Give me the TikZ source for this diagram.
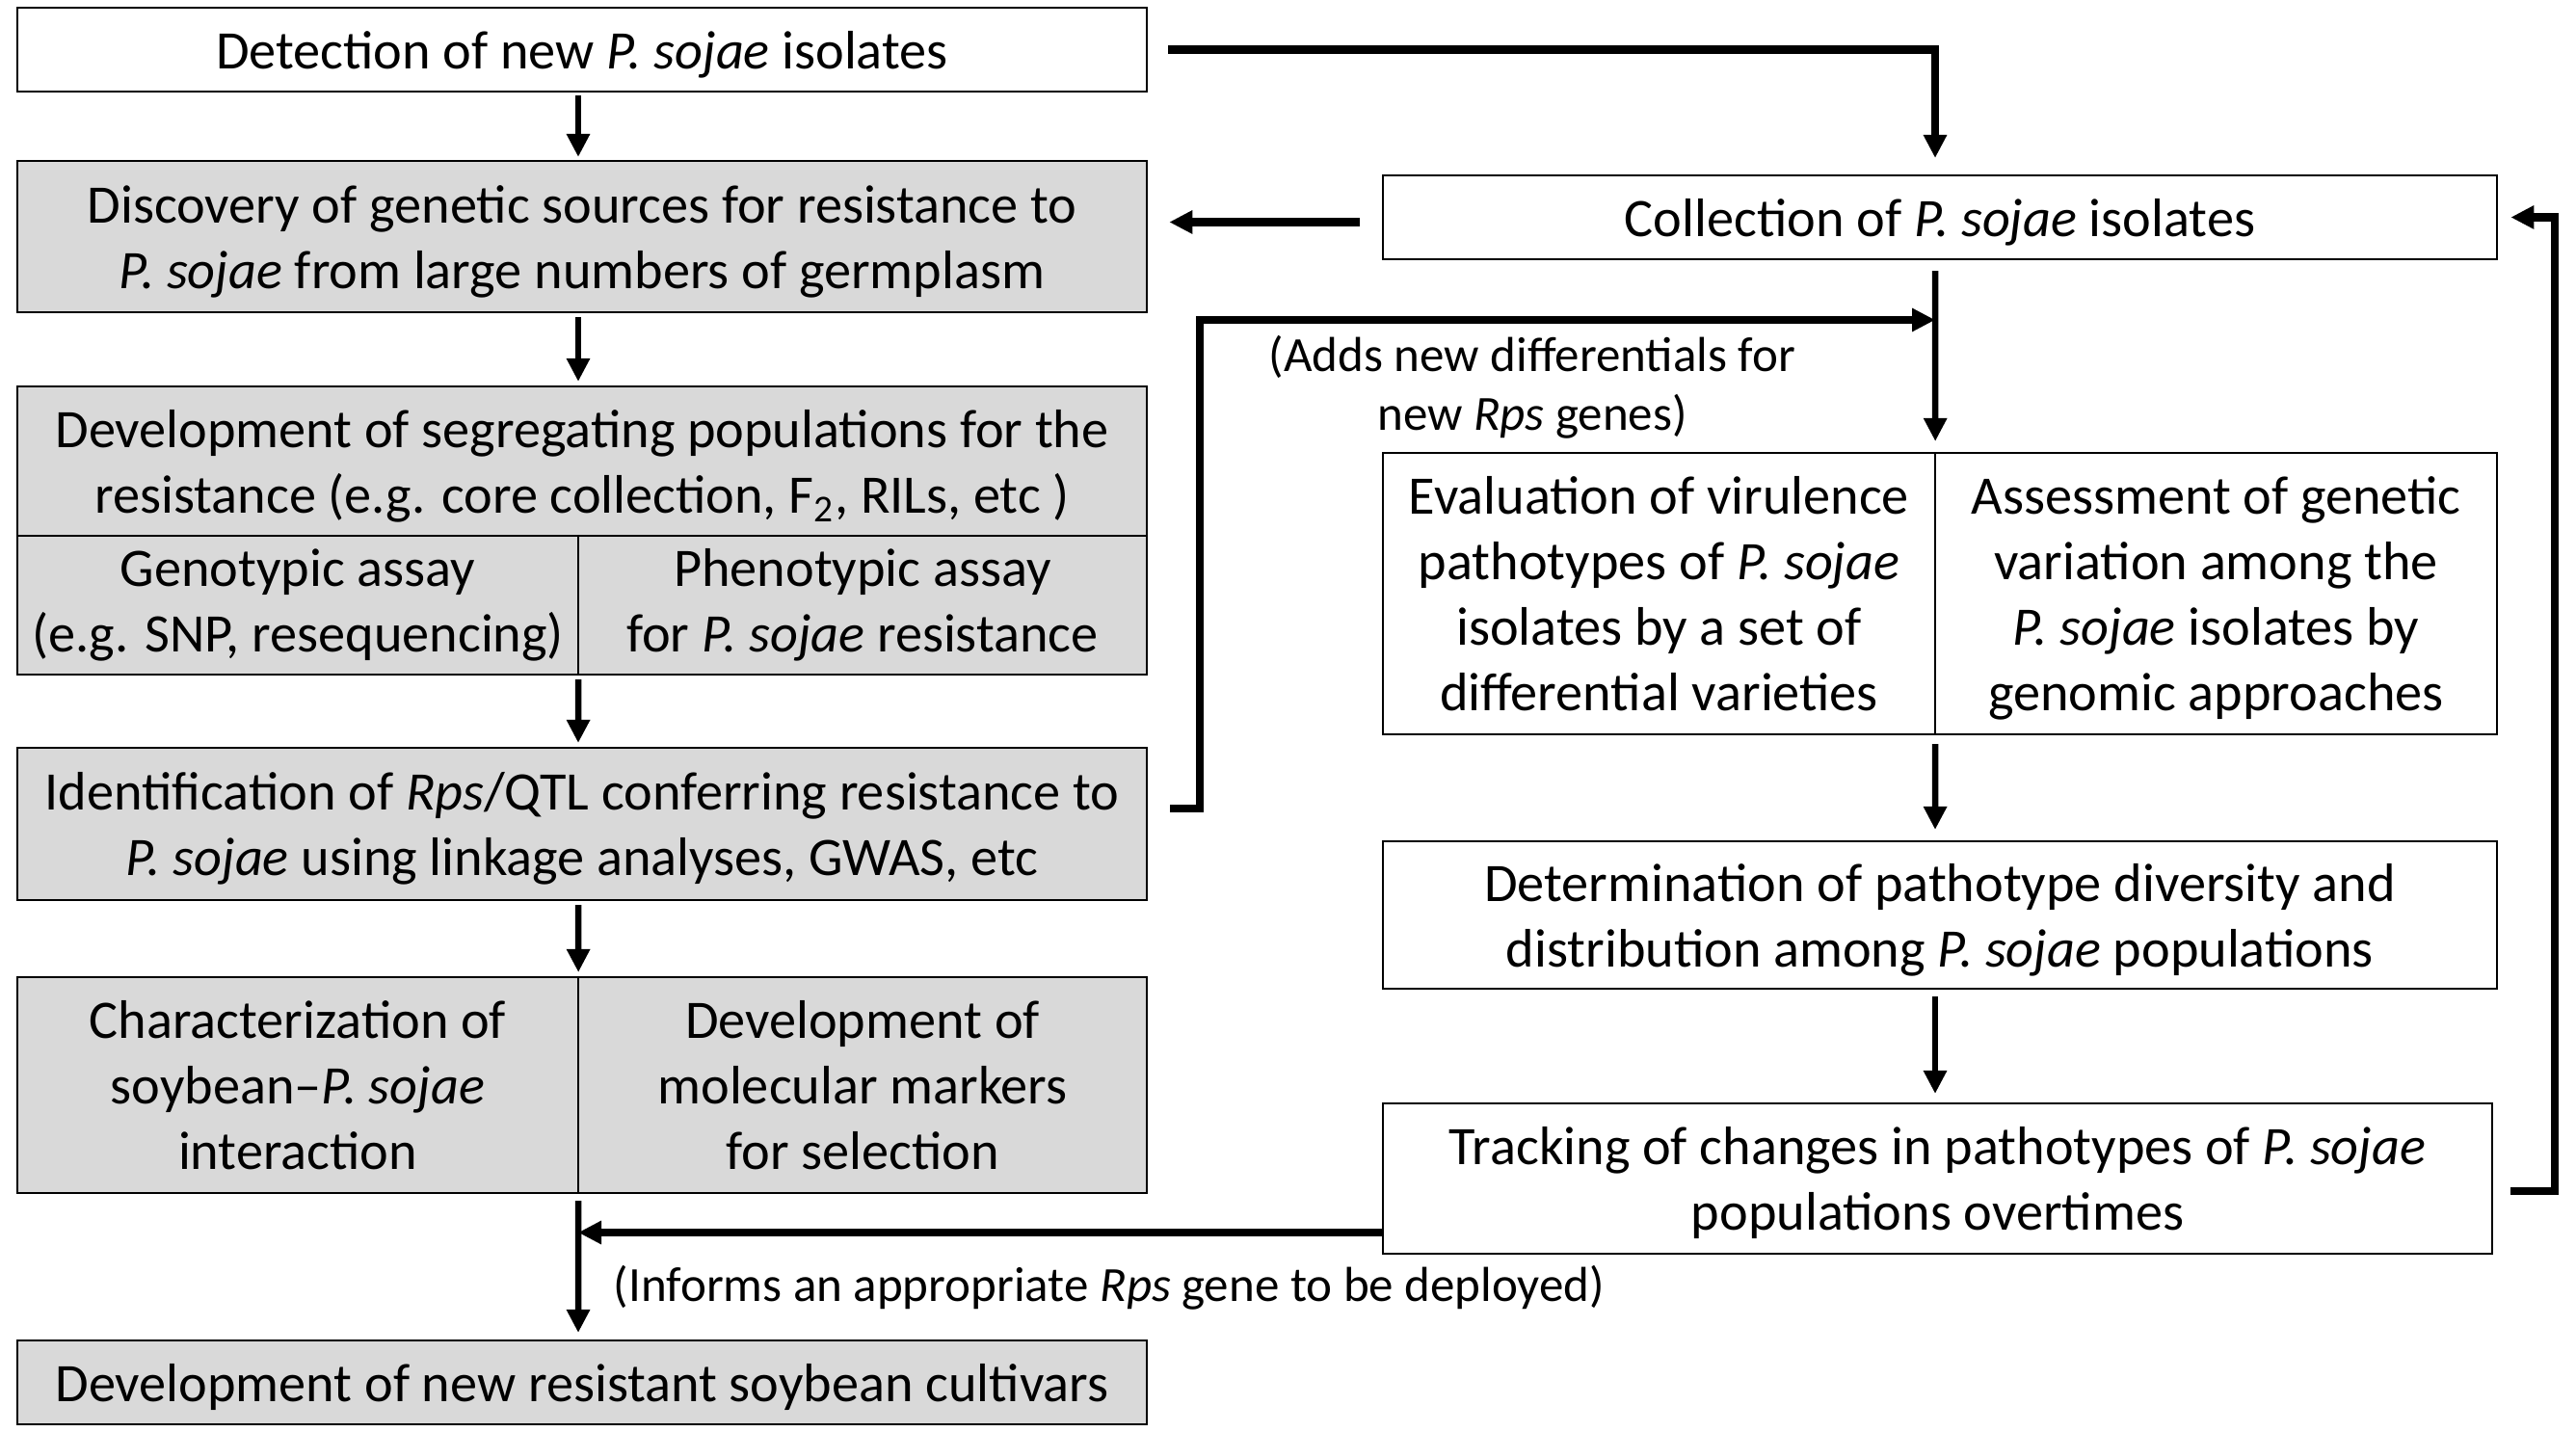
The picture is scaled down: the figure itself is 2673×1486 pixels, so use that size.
\documentclass[tikz,border=0pt]{standalone}
\usepackage{fontspec}
\setmainfont{Carlito}
\usetikzlibrary{arrows.meta,calc}
\definecolor{boxgray}{HTML}{D9D9D9}
\newcommand{\bxfont}{\fontsize{16}{19.35}\selectfont}
\newcommand{\lbfont}{\fontsize{14.5}{17.4}\selectfont}
\newcommand{\bs}{\rule[-4pt]{0pt}{19.2pt}}
\newcommand{\bsd}{\rule[-6.8pt]{0pt}{10pt}}
\begin{document}
\begin{tikzpicture}[x=0.01cm,y=-0.01cm,
  box/.style={draw=black, line width=0.6pt, inner sep=0pt, outer sep=0pt, align=center, font=\bxfont},
  cell/.style={inner sep=0pt, outer sep=0pt, align=center, font=\bxfont},
  grayfill/.style={fill=boxgray},
  frame/.style={line width=0.6pt},
  divider/.style={line width=0.4pt},
  thinarr/.style={line width=1.85pt, -{Triangle[length=0.24cm,width=0.23cm]}},
  thickarr/.style={line width=2.3pt, -{Triangle[length=0.24cm,width=0.23cm]}},
  lbl/.style={font=\lbfont, align=center, inner sep=0pt}]
\useasboundingbox (0,0) rectangle (2673,1486);
\fill[white] (0,0) rectangle (2673,1486);

% helper coordinates
\coordinate (mx) at (600,0);
\coordinate (rx) at (2008,0);
\coordinate (fx) at (2651,0);
\coordinate (jx) at (1245,0);

% left column
\node[box, minimum width=11.72cm, minimum height=0.87cm] (d1) at (604,51.5) {\bs Detection of new \textit{P. sojae} isolates\bs};
\node[box, grayfill, minimum width=11.72cm, minimum height=1.57cm] (d2) at (604,245.5) {\bs Discovery of genetic sources for resistance to\\\textit{P. sojae} from large numbers of germplasm\bs};
\node[cell, grayfill, minimum width=11.72cm, minimum height=1.55cm] (d3a) at (604,478.5) {\bs Development of segregating populations for the\\resistance (e.g. core collection, F\textsubscript{2}, RILs, etc )\bs};
\node[cell, grayfill, minimum width=5.82cm, minimum height=1.43cm] (d3b) at (309,627.5) {\bs Genotypic assay\\(e.g. SNP, resequencing)\bsd};
\node[cell, grayfill, minimum width=5.90cm, minimum height=1.43cm] (d3c) at (895,627.5) {\bs Phenotypic assay\\for \textit{P. sojae} resistance\bsd};
\draw[frame] (d3a.north west) rectangle (d3c.south east);
\draw[frame] (d3a.south west) -- (d3a.south east);
\draw[divider] (d3b.north east) -- (d3b.south east);

\node[box, grayfill, minimum width=11.72cm, minimum height=1.58cm] (d4) at (604,855) {\bs Identification of \textit{Rps}/QTL conferring resistance to\\\textit{P. sojae} using linkage analyses, GWAS, etc\bs};

\node[cell, grayfill, minimum width=5.82cm, minimum height=2.24cm] (d5l) at (309,1126) {\bs Characterization of\\soybean–\textit{P. sojae}\\interaction\bs};
\node[cell, grayfill, minimum width=5.90cm, minimum height=2.24cm] (d5r) at (895,1126) {\bs Development of\\molecular markers\\for selection\bs};
\draw[frame] (d5l.north west) rectangle (d5r.south east);
\draw[divider] (d5l.north east) -- (d5l.south east);

\node[box, grayfill, minimum width=11.72cm, minimum height=0.87cm] (d6) at (604,1434.5) {\bs Development of new resistant soybean cultivars\bs};

% right column
\node[box, minimum width=11.56cm, minimum height=0.87cm] (c1) at (2013,225.5) {\bs Collection of \textit{P. sojae} isolates\bs};
\node[cell, minimum width=5.73cm, minimum height=2.92cm] (c2l) at (1721.5,616) {\bs Evaluation of virulence\\pathotypes of \textit{P. sojae}\\isolates by a set of\\differential varieties\bs};
\node[cell, minimum width=5.83cm, minimum height=2.92cm] (c2r) at (2299.5,616) {\bs Assessment of genetic\\variation among the\\\textit{P. sojae} isolates by\\genomic approaches\bs};
\draw[frame] (c2l.north west) rectangle (c2r.south east);
\draw[divider] (c2l.north east) -- (c2l.south east);
\node[box, minimum width=11.56cm, minimum height=1.53cm] (c3) at (2013,949.5) {\bs Determination of pathotype diversity and\\distribution among \textit{P. sojae} populations\bs};
\node[box, minimum width=11.51cm, minimum height=1.56cm] (c4) at (2010.5,1223) {\bs Tracking of changes in pathotypes of \textit{P. sojae}\\populations overtimes\bs};

% labels
\node[lbl] (la) at (1590,402) {(Adds new differentials for\\new \textit{Rps} genes)};
\node[lbl] (lb) at (1151,1336) {(Informs an appropriate \textit{Rps} gene to be deployed)};

% left column arrows
\draw[thinarr] ($(d1.south -| mx)+(0,4)$) -- ($(d2.north -| mx)+(0,-4)$);
\draw[thinarr] ($(d2.south -| mx)+(0,5)$) -- ($(d3a.north -| mx)+(0,-5)$);
\draw[thinarr] ($(d3b.south east)+(0,5)$) -- ($(d4.north -| mx)+(0,-5)$);
\draw[thinarr] ($(d4.south -| mx)+(0,5)$) -- ($(d5l.north east)+(0,-5)$);
\draw[thinarr] ($(d5l.south east)+(0,8)$) -- ($(d6.north -| mx)+(0,-8)$);

% right column arrows
\draw[thinarr] ($(c1.south -| rx)+(0,12)$) -- ($(c2l.north east)+(0,-12)$);
\draw[thinarr] ($(c2l.south east)+(0,10)$) -- ($(c3.north -| rx)+(0,-12)$);
\draw[thinarr] ($(c3.south -| rx)+(0,8)$) -- ($(c4.north -| rx)+(0,-10)$);

% cross connectors
\draw[thickarr] ($(d1.east)+(22,0)$) -- ($(d1.east -| rx)$) -- ($(c1.north -| rx)+(0,-18)$);
\draw[thickarr] ($(c1.west)+(-24,5)$) -- ($(c1.west -| d2.east)+(23,5)$);
\coordinate (j1) at ($(d4.east)+(24,-16)$);
\coordinate (j2) at (2008,332);
\draw[thickarr] (j1) -- (j1 -| jx) -- (j2 -| jx) -- (j2);
\coordinate (t1) at ($(c4.west)+(0,56)$);
\draw[thickarr] (t1) -- (t1 -| mx);
\coordinate (r1) at ($(c4.east)+(19,13)$);
\coordinate (r2) at ($(c1.east)+(14,0)$);
\draw[thickarr] (r1) -- (r1 -| fx) -- (r2 -| fx) -- (r2);
\end{tikzpicture}
\end{document}
